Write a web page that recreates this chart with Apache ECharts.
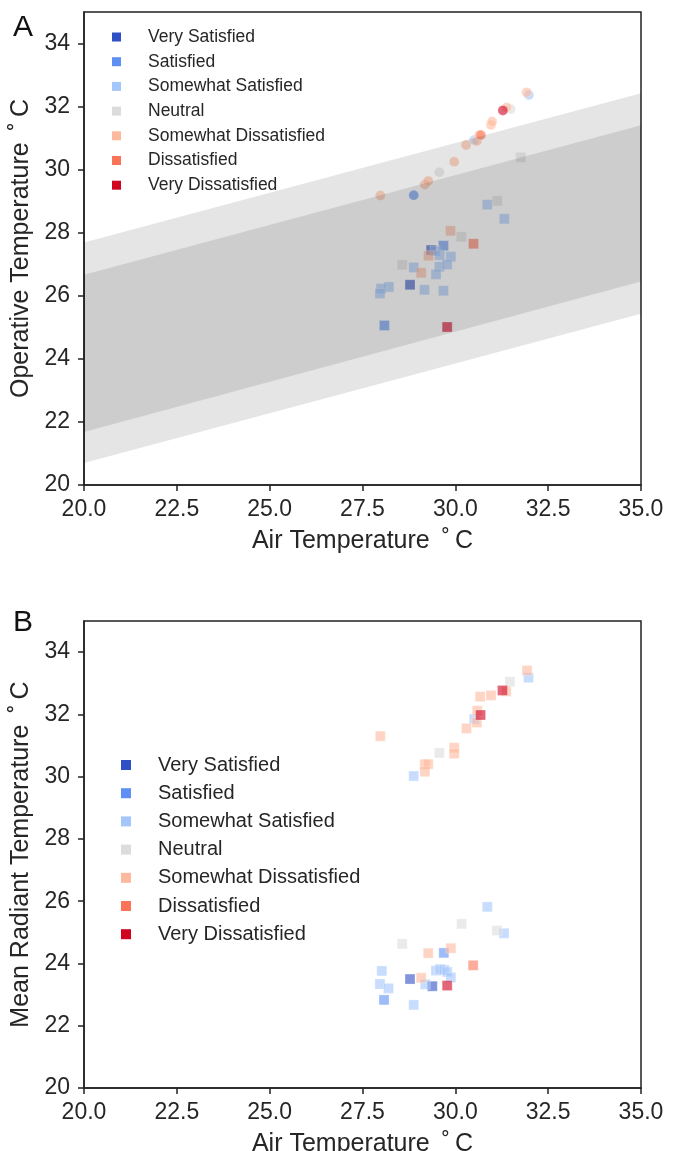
<!DOCTYPE html>
<html>
<head>
<meta charset="utf-8">
<script src="https://cdn.jsdelivr.net/npm/echarts@6/dist/echarts.min.js"></script>
<style>html,body{margin:0;padding:0;background:#fff}#c{width:680px;height:1151px}</style>
</head>
<body>
<div id="c"></div>
<script>
// ---- data ----
const categories = ['Very Satisfied','Satisfied','Somewhat Satisfied','Neutral','Somewhat Dissatisfied','Dissatisfied','Very Dissatisfied'];
const catColors = ['#2f4fc5','#5d90f2','#a3c6fb','#dcdcdc','#fdb99d','#fc7458','#d0021f'];
const xTicks = [20, 22.5, 25, 27.5, 30, 32.5, 35];
const yTicks = [20, 22, 24, 26, 28, 30, 32, 34];

// comfort bands (panel A), values at x = 20 and x = 35
const bandX = [20, 35];
const outerLow = [20.70, 25.43];
const outerHigh = [27.69, 32.42];
const innerLow = [21.68, 26.45];
const innerHigh = [26.67, 31.41];

// Panel A: squares (operative temperature)
const aSquares = {
  'Very Satisfied': [[29.35,27.45],[28.78,26.35]],
  'Satisfied': [[29.68,27.59],[28.09,25.06]],
  'Somewhat Satisfied': [[29.45,27.42],[29.58,27.29],[29.88,27.24],[28.88,26.90],[29.57,26.92],[29.78,26.99],[29.48,26.68],[29.17,26.19],[29.68,26.16],[28.21,26.28],[28.00,26.23],[27.97,26.07],[30.86,28.89],[31.32,28.44]],
  'Neutral': [[30.16,27.87],[28.57,26.98],[31.13,29.01],[31.76,30.39]],
  'Somewhat Dissatisfied': [[29.87,28.06],[29.28,27.27],[29.08,26.73]],
  'Dissatisfied': [[30.49,27.65]],
  'Very Dissatisfied': [[29.78,25.01]]
};
// Panel A: circles
const aCircles = {
  'Very Satisfied': [],
  'Satisfied': [[28.88,29.19]],
  'Somewhat Satisfied': [[30.51,30.94],[31.98,32.37]],
  'Neutral': [[29.57,29.92],[31.49,31.92]],
  'Somewhat Dissatisfied': [[27.98,29.18],[29.18,29.53],[29.27,29.64],[29.97,30.25],[30.29,30.78],[30.58,30.91],[30.64,31.09],[30.96,31.42],[30.99,31.53],[31.38,31.97],[31.92,32.45]],
  'Dissatisfied': [[30.69,31.10]],
  'Very Dissatisfied': [[31.28,31.88]]
};
// Panel B: squares (mean radiant temperature)
const bSquares = {
  'Very Satisfied': [[28.78,23.50],[29.38,23.27]],
  'Satisfied': [[29.69,24.34],[28.08,22.83]],
  'Somewhat Satisfied': [[30.86,25.82],[31.31,24.97],[29.48,23.77],[29.59,23.82],[29.70,23.79],[29.78,23.73],[29.88,23.55],[28.02,23.76],[29.19,23.33],[27.97,23.34],[28.20,23.20],[28.88,22.67],[28.88,30.02],[30.51,31.85],[31.97,33.18]],
  'Neutral': [[30.17,25.27],[31.12,25.06],[28.57,24.63],[29.57,30.76],[31.47,33.05]],
  'Somewhat Dissatisfied': [[29.88,24.49],[29.27,24.33],[29.08,23.54],[27.98,31.30],[29.18,30.40],[29.27,30.40],[29.18,30.16],[29.97,30.93],[29.97,30.74],[30.30,31.55],[30.58,31.74],[30.59,32.12],[30.67,32.57],[30.96,32.61],[31.37,32.74],[31.93,33.41]],
  'Dissatisfied': [[30.48,23.94]],
  'Very Dissatisfied': [[29.78,23.29],[30.68,31.98],[31.27,32.77]]
};

// ---- chart ----
const FONT = "'Liberation Sans', Arial, sans-serif";
const TXT = '#262626';
const DEG = ' \u2009\u02DA\u2009C';
const chart = echarts.init(document.getElementById('c'), null, {renderer: 'canvas'});

function xAxis(gi) {
  return {
    type: 'value', gridIndex: gi, min: 20, max: 35, interval: 2.5,
    name: 'Air Temperature' + DEG, nameLocation: 'middle', nameGap: 44,
    nameTextStyle: {fontFamily: FONT, fontSize: 25, color: TXT},
    axisLine: {show: true, lineStyle: {color: '#222', width: 1.5}},
    axisTick: {show: true, length: 6, lineStyle: {color: '#222', width: 1.5}, customValues: xTicks},
    axisLabel: {fontFamily: FONT, fontSize: 23, color: TXT, margin: 13, customValues: xTicks,
      formatter: v => Number(v).toFixed(1)},
    splitLine: {show: false}
  };
}
function yAxis(gi, name) {
  return {
    type: 'value', gridIndex: gi, min: 20, max: 35, interval: 2,
    name: name, nameLocation: 'middle', nameGap: 50, nameRotate: 90,
    nameTextStyle: {fontFamily: FONT, fontSize: 25, color: TXT},
    axisLine: {show: true, lineStyle: {color: '#222', width: 1.5}},
    axisTick: {show: true, length: 6, lineStyle: {color: '#222', width: 1.5}, customValues: yTicks},
    axisLabel: {fontFamily: FONT, fontSize: 23, color: TXT, margin: 14, customValues: yTicks},
    splitLine: {show: false}
  };
}

function bandSeries(lo, hi) {
  return {
    type: 'custom', xAxisIndex: 0, yAxisIndex: 0, z: 5, silent: true, clip: true,
    encode: {x: [0, 1], y: [2, 3, 4, 5]},
    data: [[bandX[0], bandX[1], lo[0], hi[0], lo[1], hi[1]]],
    renderItem: function (params, api) {
      const pts = [
        api.coord([api.value(0), api.value(2)]),
        api.coord([api.value(1), api.value(4)]),
        api.coord([api.value(1), api.value(5)]),
        api.coord([api.value(0), api.value(3)])
      ];
      return {type: 'polygon', shape: {points: pts}, style: {fill: 'rgba(0,0,0,0.1)'}};
    }
  };
}

const series = [bandSeries(outerLow, outerHigh), bandSeries(innerLow, innerHigh)];
categories.forEach((c, i) => {
  const style = {color: catColors[i], opacity: 0.6, borderColor: 'rgba(255,255,255,0.8)', borderWidth: 0.6};
  series.push({name: c, type: 'scatter', xAxisIndex: 0, yAxisIndex: 0, symbol: 'rect', symbolSize: 10, z: 3,
    itemStyle: style, data: aSquares[c]});
  series.push({name: c, type: 'scatter', xAxisIndex: 0, yAxisIndex: 0, symbol: 'circle', symbolSize: 10, z: 3,
    itemStyle: style, data: aCircles[c]});
  series.push({name: c, type: 'scatter', xAxisIndex: 1, yAxisIndex: 1, symbol: 'rect', symbolSize: 10, z: 3,
    itemStyle: style, data: bSquares[c]});
});

function legend(left, top, size, fs, lh, gap, pad) {
  return {
    orient: 'vertical', left: left, top: top, padding: 0, itemWidth: size, itemHeight: size, itemGap: gap,
    icon: 'rect', selectedMode: false, z: 10,
    data: categories.map((c, i) => ({name: c, itemStyle: {color: catColors[i], opacity: 1, borderWidth: 0}})),
    itemStyle: {opacity: 1, borderWidth: 0},
    textStyle: {fontFamily: FONT, fontSize: fs, color: TXT, lineHeight: lh, padding: [0, 0, 0, pad]}
  };
}

chart.setOption({
  animation: false,
  backgroundColor: '#fff',
  title: [
    {text: 'A', left: 8, top: 8, textStyle: {fontFamily: FONT, fontSize: 30, fontWeight: 'normal', color: '#111'}},
    {text: 'B', left: 8, top: 603, textStyle: {fontFamily: FONT, fontSize: 30, fontWeight: 'normal', color: '#111'}}
  ],
  grid: [
    {left: 84, right: 39, top: 12, height: 473, outerBoundsMode: 'none', containLabel: false,
      show: true, borderColor: '#222', borderWidth: 1.5, backgroundColor: 'transparent'},
    {left: 84, right: 39, top: 621, height: 467, outerBoundsMode: 'none', containLabel: false,
      show: true, borderColor: '#222', borderWidth: 1.5, backgroundColor: 'transparent'}
  ],
  xAxis: [xAxis(0), xAxis(1)],
  yAxis: [yAxis(0, 'Operative Temperature' + DEG), yAxis(1, 'Mean Radiant Temperature' + DEG)],
  legend: [
    legend(112, 27, 9, 17.5, 20, 4.7, 22),
    legend(121, 754, 10, 20, 22, 6.2, 22)
  ],
  series: series
});
</script>
</body>
</html>
